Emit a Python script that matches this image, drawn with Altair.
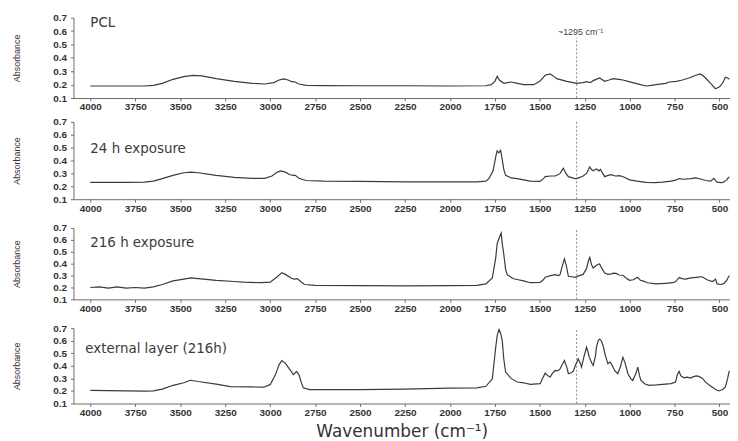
import altair as alt
import pandas as pd

# ---------------- data ----------------
x_ticks = [4000, 3750, 3500, 3250, 3000, 2750, 2500, 2250, 2000, 1750, 1500, 1250, 1000, 750, 500]
y_ticks = [0.1, 0.2, 0.3, 0.4, 0.5, 0.6, 0.7]

pcl_wn = [4000, 3800, 3700, 3650, 3600, 3540, 3480, 3430, 3380, 3300, 3200, 3100, 3030, 2980, 2950, 2925,
          2900, 2880, 2860, 2840, 2800, 2700, 2500, 2250, 2000, 1800, 1770, 1750, 1737, 1725, 1700, 1663,
          1630, 1590, 1534, 1500, 1470, 1442, 1420, 1406, 1350, 1295, 1260, 1240, 1220, 1203, 1167, 1150,
          1139, 1115, 1093, 1060, 1038, 1010, 983, 940, 909, 880, 854, 800, 780, 740, 707, 670, 633, 606,
          590, 578, 550, 523, 505, 496, 480, 468, 455, 445]
pcl_abs = [0.19, 0.19, 0.19, 0.195, 0.21, 0.24, 0.26, 0.27, 0.265, 0.245, 0.225, 0.21, 0.205, 0.215, 0.235, 0.243,
           0.235, 0.222, 0.22, 0.205, 0.195, 0.193, 0.192, 0.192, 0.19, 0.192, 0.2, 0.225, 0.263, 0.235, 0.21, 0.22,
           0.212, 0.2, 0.2, 0.225, 0.27, 0.28, 0.26, 0.245, 0.225, 0.21, 0.215, 0.222, 0.215, 0.23, 0.25, 0.235,
           0.225, 0.235, 0.245, 0.24, 0.235, 0.225, 0.215, 0.2, 0.19, 0.195, 0.2, 0.21, 0.22, 0.225, 0.235, 0.25, 0.27, 0.28,
           0.265, 0.25, 0.21, 0.17, 0.18, 0.19, 0.22, 0.255, 0.25, 0.24]

h24_wn = [4000, 3800, 3700, 3650, 3600, 3540, 3480, 3440, 3400, 3300, 3200, 3100, 3030, 2990, 2960, 2940,
          2915, 2890, 2870, 2860, 2840, 2800, 2700, 2500, 2250, 2000, 1850, 1800, 1783, 1760, 1745, 1737,
          1728, 1718, 1708, 1700, 1690, 1660, 1626, 1590, 1553, 1498, 1480, 1470, 1440, 1415, 1400, 1387,
          1369, 1355, 1341, 1305, 1290, 1259, 1240, 1222, 1212, 1203, 1185, 1170, 1163, 1150, 1139, 1120,
          1102, 1080, 1056, 1030, 1001, 960, 909, 860, 817, 770, 740, 725, 700, 660, 633, 600, 578, 550,
          532, 520, 514, 490, 477, 460, 450, 445]
h24_abs = [0.23, 0.23, 0.232, 0.24, 0.26, 0.285, 0.305, 0.31, 0.305, 0.285, 0.27, 0.262, 0.262, 0.28, 0.31, 0.32,
           0.31, 0.29, 0.285, 0.285, 0.262, 0.245, 0.24, 0.238, 0.235, 0.235, 0.235, 0.24, 0.26, 0.32, 0.43, 0.475,
           0.46, 0.478, 0.4, 0.33, 0.285, 0.265, 0.26, 0.25, 0.24, 0.238, 0.26, 0.275, 0.28, 0.28, 0.29, 0.3,
           0.34, 0.3, 0.275, 0.26, 0.262, 0.28, 0.3, 0.35, 0.33, 0.32, 0.335, 0.32, 0.332, 0.3, 0.275, 0.285,
           0.29, 0.28, 0.283, 0.27, 0.25, 0.24, 0.23, 0.228, 0.232, 0.24, 0.25, 0.26, 0.255, 0.26, 0.265, 0.255, 0.245, 0.24,
           0.262, 0.24, 0.232, 0.228, 0.232, 0.25, 0.27, 0.27]

h216_wn = [4000, 3950, 3900, 3850, 3800, 3750, 3700, 3650, 3600, 3540, 3480, 3440, 3400, 3300, 3200, 3147,
           3050, 3000, 2960, 2935, 2915, 2880, 2865, 2849, 2830, 2809, 2750, 2500, 2250, 2000, 1850, 1800,
           1764, 1745, 1737, 1725, 1715, 1708, 1700, 1690, 1681, 1650, 1626, 1590, 1553, 1498, 1480, 1470,
           1440, 1415, 1395, 1387, 1375, 1363, 1352, 1341, 1320, 1305, 1280, 1259, 1240, 1230, 1222, 1212,
           1203, 1190, 1175, 1167, 1155, 1139, 1120, 1102, 1090, 1075, 1060, 1038, 1020, 1001, 980, 955,
           940, 928, 900, 854, 800, 760, 744, 725, 710, 689, 660, 630, 597, 570, 541, 530, 523, 514, 495,
           477, 460, 450, 445]
h216_abs = [0.2, 0.205, 0.195, 0.205, 0.195, 0.2, 0.195, 0.205, 0.225, 0.255, 0.27, 0.28, 0.275, 0.26, 0.25, 0.245,
            0.24, 0.245, 0.29, 0.325, 0.31, 0.275, 0.27, 0.275, 0.25, 0.225, 0.218, 0.215, 0.213, 0.215, 0.218, 0.23,
            0.28, 0.45, 0.57, 0.62, 0.656, 0.56, 0.475, 0.35, 0.308, 0.275, 0.267, 0.255, 0.24, 0.242, 0.265, 0.286,
            0.3, 0.308, 0.3, 0.31, 0.38, 0.44, 0.38, 0.294, 0.29, 0.285, 0.3, 0.31, 0.36, 0.42, 0.453, 0.39,
            0.364, 0.38, 0.395, 0.397, 0.36, 0.322, 0.31, 0.314, 0.32, 0.318, 0.305, 0.303, 0.28, 0.26, 0.265, 0.286,
            0.26, 0.255, 0.24, 0.23, 0.235, 0.24, 0.25, 0.285, 0.275, 0.27, 0.28, 0.285, 0.29, 0.265, 0.25, 0.26, 0.27, 0.23, 0.225,
            0.232, 0.26, 0.29, 0.3]

ext_wn = [4000, 3800, 3700, 3650, 3600, 3540, 3480, 3443, 3400, 3300, 3222, 3100, 3036, 3000, 2970, 2950,
          2935, 2915, 2890, 2871, 2860, 2853, 2840, 2825, 2816, 2780, 2500, 2250, 2000, 1850, 1800, 1764,
          1745, 1737, 1727, 1718, 1709, 1700, 1690, 1660, 1626, 1590, 1553, 1498, 1485, 1470, 1455, 1442,
          1430, 1415, 1400, 1387, 1375, 1363, 1350, 1341, 1325, 1314, 1300, 1286, 1275, 1268, 1255, 1240,
          1232, 1225, 1210, 1203, 1190, 1185, 1175, 1167, 1158, 1148, 1135, 1121, 1110, 1102, 1090, 1084,
          1066, 1050, 1038, 1025, 1010, 995, 983, 965, 955, 945, 937, 915, 891, 850, 817, 770, 745, 735,
          725, 715, 698, 680, 660, 652, 630, 615, 595, 578, 550, 520, 505, 485, 468, 455, 448, 445]
ext_abs = [0.205, 0.2, 0.198, 0.2, 0.215, 0.245, 0.265, 0.285, 0.275, 0.255, 0.235, 0.232, 0.23, 0.25, 0.33, 0.41,
           0.442, 0.42, 0.37, 0.33, 0.345, 0.355, 0.33, 0.26, 0.225, 0.21, 0.21, 0.215, 0.222, 0.225, 0.237, 0.297,
           0.55, 0.64, 0.69, 0.66, 0.6, 0.45, 0.35, 0.3, 0.271, 0.265, 0.253, 0.258, 0.3, 0.342, 0.32, 0.311,
           0.34, 0.363, 0.36, 0.376, 0.41, 0.442, 0.39, 0.337, 0.345, 0.358, 0.41, 0.455, 0.42, 0.39, 0.47, 0.548,
           0.51, 0.469, 0.42, 0.403, 0.48, 0.548, 0.6, 0.613, 0.6, 0.56, 0.48, 0.416, 0.43, 0.416, 0.38, 0.363,
           0.337, 0.4, 0.469, 0.42, 0.337, 0.3, 0.284, 0.34, 0.39, 0.32, 0.284, 0.255, 0.245, 0.248, 0.253, 0.258, 0.27, 0.33,
           0.355, 0.32, 0.305, 0.31, 0.303, 0.31, 0.32, 0.316, 0.3, 0.27, 0.24, 0.21, 0.2, 0.21, 0.23, 0.3, 0.35, 0.36]

panel_names = ["PCL", "24 h exposure", "216 h exposure", "external layer (216h)"]
label_pos_wn = [4000, 4000, 4000, 4028]
label_pos_abs = [0.66, 0.49, 0.575, 0.53]
marker_wn = 1295
marker_text = "~1295 cm\u207b\u00b9"

# ---------------- layout ----------------
W = 662
heights = [81, 78, 72, 76]
rule_tops = [0.55, 0.7, 0.7, 0.7]

x_scale = alt.Scale(domain=[442, 4094], reverse=True, nice=False, zero=False)
y_scale = alt.Scale(domain=[0.1, 0.7], nice=False, zero=False)

LINE = "#3a3a3a"


def panel(wn, ab, idx, bottom):
    df = pd.DataFrame({"w": wn, "a": ab})
    x_axis = alt.Axis(values=x_ticks, format="d", labelPadding=1, labelOverlap=False,
                      title="Wavenumber (cm\u207b\u00b9)" if bottom else None,
                      titleFontSize=17, titleFont="DejaVu Sans", titleFontWeight="normal",
                      titlePadding=6, titleColor="#333")
    y_axis = alt.Axis(values=y_ticks, format=".1f", title="Absorbance", labelPadding=4,
                      labelOverlap=False, labelFontSize=10,
                      titleFontSize=9, titleFontWeight="normal", titleFont="Liberation Sans",
                      titlePadding=31, titleColor="#333")
    X = alt.X("w:Q", scale=x_scale, axis=x_axis)
    Y = alt.Y("a:Q", scale=y_scale, axis=y_axis)
    rdf = pd.DataFrame({"w": [marker_wn], "a": [0.1], "a2": [rule_tops[idx]]})
    rule = alt.Chart(rdf).mark_rule(color="#8a8a8a", strokeWidth=1, strokeDash=[2, 2]).encode(
        x=X, y=Y, y2="a2:Q")
    line = alt.Chart(df).mark_line(color=LINE, strokeWidth=1.2, clip=True).encode(x=X, y=Y)
    ldf = pd.DataFrame({"w": [label_pos_wn[idx]], "a": [label_pos_abs[idx]], "t": [panel_names[idx]]})
    lab = alt.Chart(ldf).mark_text(align="left", baseline="middle", font="DejaVu Sans",
                                   fontSize=13.5, color="#3a3a3a").encode(x=X, y=Y, text="t:N")
    layers = [rule, line, lab]
    if idx == 0:
        mdf = pd.DataFrame({"w": [marker_wn], "a": [0.59], "t": [marker_text]})
        layers.append(alt.Chart(mdf).mark_text(align="center", baseline="middle", font="Liberation Sans",
                                               fontSize=9, color="#444", dx=4).encode(
            x=X, y=Y, text="t:N"))
    return alt.layer(*layers).properties(width=W, height=heights[idx])


p1 = panel(pcl_wn, pcl_abs, 0, False)
p2 = panel(h24_wn, h24_abs, 1, False)
p3 = panel(h216_wn, h216_abs, 2, False)
p4 = panel(ext_wn, ext_abs, 3, True)

chart = alt.vconcat(p1, alt.vconcat(p2, p3, p4, spacing=10), spacing=5).properties(
    padding={"left": 5, "top": 3, "right": 0, "bottom": 0},
    background="white",
).configure_view(strokeWidth=0).configure_axis(
    grid=False,
    labelFont="Liberation Sans",
    labelFontWeight="bold",
    labelFontSize=10,
    labelColor="#333",
    domainColor="#6a6a6a",
    tickColor="#6a6a6a",
    tickSize=3,
).configure_axisY(labelOverlap=False)

chart.save("out.html", embed_options={"renderer": "svg", "actions": False})
